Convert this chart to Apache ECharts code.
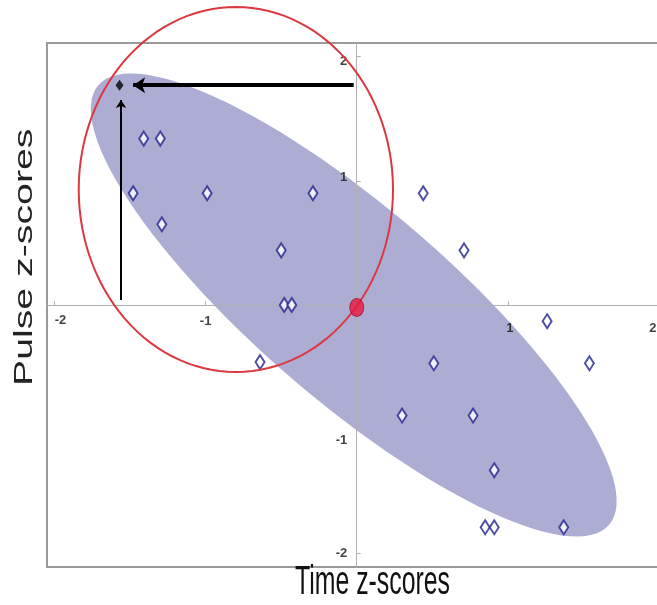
<!DOCTYPE html>
<html>
<head>
<meta charset="UTF-8">
<title>Pulse vs Time z-scores</title>
<script src="https://cdn.jsdelivr.net/npm/echarts@6.0.0/dist/echarts.min.js"></script>
</head>
<body style="margin:0; background:#fff;">
<div id="main" style="width:657px; height:605px;"></div>
<script>
// observations (z-scores)
var timeZ  = [-1.41, -1.30, -1.48, -0.99, -0.29, -1.29, -0.50, 0.44, 0.71, -0.48, -0.43,
              1.26, -0.64, 0.51, 1.54, 0.30, 0.77, 0.91, 0.85, 0.91, 1.37];
var pulseZ = [1.34, 1.34, 0.90, 0.90, 0.90, 0.65, 0.44, 0.90, 0.44, 0.00, 0.00,
              -0.13, -0.46, -0.47, -0.47, -0.89, -0.89, -1.33, -1.79, -1.79, -1.79];

// tick labels
var tickVals = [-2, -1, 1, 2];

// the new observation, its read-off lines and the mean point
var newPoint = [-1.57, 1.77];
var readX = [[-0.02, 1.77], [-1.48, 1.77]];
var readY = [[-1.56, 0.04], [-1.56, 1.65]];
var meanPoint = [0, -0.02];

// shaded ellipse: centre + two conjugate semi-diameters (data units)
var ellCenter = [-0.02, 0.0];
var ellAxisA = [1.69, -1.77];
var ellAxisB = [0.415, 0.586];

// red circle around the new point
var ringCenter = [-0.80, 0.93];
var ringRadii = [1.04, 1.47];

var chart = echarts.init(document.getElementById('main'));

function ellipsePoints(api, c, u, v) {
  var pts = [];
  for (var i = 0; i <= 120; i++) {
    var t = i / 120 * Math.PI * 2;
    pts.push(api.coord([c[0] + u[0] * Math.cos(t) + v[0] * Math.sin(t),
                        c[1] + u[1] * Math.cos(t) + v[1] * Math.sin(t)]));
  }
  return pts;
}

var tickFont = {
  fontFamily: 'Liberation Sans',
  fontWeight: 'bold',
  fontSize: 13,
  color: '#111'
};

var option = {
  animation: false,
  grid: {
    left: 47, top: 43, width: 621, height: 524,
    outerBoundsMode: 'none',
    show: true, borderColor: '#9a9a9a', borderWidth: 2, backgroundColor: '#fff'
  },
  xAxis: {
    type: 'value', min: -2.05, max: 2.06, z: 2,
    axisLine: { onZero: true, lineStyle: { color: '#b0b0b0', width: 1 } },
    axisTick: { show: true, inside: true, length: 4, customValues: tickVals, lineStyle: { color: '#b0b0b0' } },
    axisLabel: { show: false },
    splitLine: { show: false }
  },
  yAxis: {
    type: 'value', min: -2.11, max: 2.11, z: 2,
    axisLine: { onZero: true, lineStyle: { color: '#b0b0b0', width: 1 } },
    axisTick: { show: true, inside: true, length: 4, customValues: tickVals, lineStyle: { color: '#b0b0b0' } },
    axisLabel: { show: false },
    splitLine: { show: false }
  },
  graphic: [
    {
      type: 'text', x: 295, y: 563, z: 10,
      style: { text: 'Time z-scores', fontFamily: 'Liberation Sans', fontSize: 36, fill: '#111' },
      scaleX: 0.69, scaleY: 1.12
    },
    {
      type: 'text', x: 12, y: 386, rotation: Math.PI / 2, z: 10,
      style: { text: 'Pulse z-scores', fontFamily: 'Liberation Sans', fontSize: 26, fill: '#222' },
      scaleX: 1.51
    }
  ],
  series: [
    {
      type: 'custom', z: 1, silent: true,
      data: [0],
      renderItem: function (params, api) {
        return {
          type: 'polygon',
          shape: { points: ellipsePoints(api, ellCenter, ellAxisA, ellAxisB) },
          style: { fill: '#adadd4', stroke: null }
        };
      }
    },
    {
      // x tick labels, sitting on the zero line
      type: 'scatter', z: 3, silent: true,
      symbol: 'circle', symbolSize: 1, itemStyle: { color: 'rgba(0,0,0,0)' },
      data: tickVals.map(function (v) { return [v, 0]; }),
      label: Object.assign({
        show: true, position: 'bottom', distance: 8,
        formatter: function (p) { return String(p.value[0]); }
      }, tickFont),
      labelLayout: function (p) {
        // labels right of the centre sit a little lower
        return [{ dx: 6, dy: 0 }, { dx: 0, dy: 1 }, { dx: 2, dy: 8 }, { dx: -6, dy: 8 }][p.dataIndex];
      }
    },
    {
      // y tick labels, sitting on the zero line
      type: 'scatter', z: 3, silent: true,
      symbol: 'circle', symbolSize: 1, itemStyle: { color: 'rgba(0,0,0,0)' },
      data: tickVals.map(function (v) { return [0, v]; }),
      label: Object.assign({
        show: true, position: 'left', distance: 9,
        formatter: function (p) { return String(p.value[1]); }
      }, tickFont),
      labelLayout: function (p) {
        return { dy: [0, 11, -3, 5][p.dataIndex] };
      }
    },
    {
      type: 'scatter', z: 4,
      symbol: 'emptyDiamond', symbolSize: [9, 14],
      itemStyle: { color: '#23238f', borderWidth: 2 },
      data: timeZ.map(function (x, i) { return [x, pulseZ[i]]; })
    },
    {
      type: 'custom', z: 5, silent: true,
      data: [0],
      renderItem: function (params, api) {
        return {
          type: 'polygon',
          shape: { points: ellipsePoints(api, ringCenter, [ringRadii[0], 0], [0, ringRadii[1]]) },
          style: { fill: 'none', stroke: '#dc3840', lineWidth: 2 }
        };
      }
    },
    {
      type: 'lines', coordinateSystem: 'cartesian2d', z: 6,
      symbol: ['none', 'arrow'], symbolSize: 12,
      lineStyle: { color: '#000', width: 4, opacity: 1 },
      data: [{ coords: readX }]
    },
    {
      type: 'lines', coordinateSystem: 'cartesian2d', z: 6,
      symbol: ['none', 'arrow'], symbolSize: 8,
      lineStyle: { color: '#000', width: 2, opacity: 1 },
      data: [{ coords: readY }]
    },
    {
      type: 'scatter', z: 7,
      symbol: 'diamond', symbolSize: [8, 11],
      itemStyle: { color: '#000' },
      data: [newPoint]
    },
    {
      type: 'scatter', z: 7,
      symbol: 'circle', symbolSize: [14, 18],
      itemStyle: { color: '#e8173f', borderColor: '#a0102a', borderWidth: 1 },
      data: [meanPoint]
    }
  ]
};
chart.setOption(option);
</script>
</body>
</html>
